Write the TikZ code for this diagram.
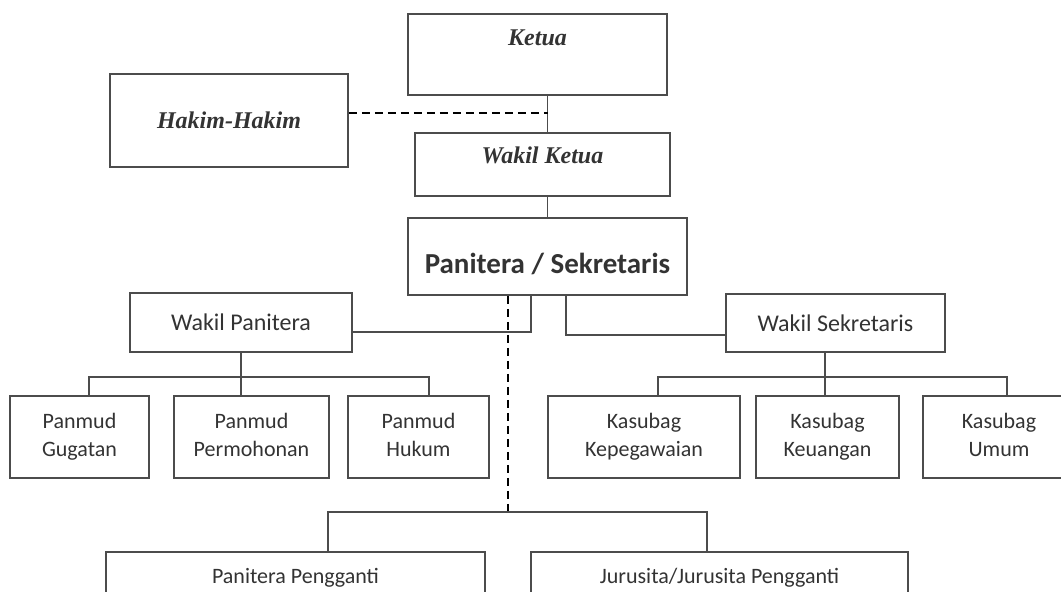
\documentclass[tikz,border=0pt]{standalone}
\usepackage{fontspec}
\setmainfont{Carlito}
\newfontfamily\serifmiring{Liberation Serif}
\usepackage{tikz}

\begin{document}
\begin{tikzpicture}[x=1pt,y=-1pt,
	kotak/.style={shape=rectangle,draw=black!70,line width=1.7pt,inner sep=0pt,align=center,text=black!80},
	atas/.style={kotak,font=\serifmiring\bfseries\itshape\fontsize{24}{28}\selectfont},
	bawah/.style={kotak,font=\fontsize{22}{28}\selectfont,minimum height=82,execute at end node=\vphantom{g}},
	garis/.style={draw=black!70,line width=1.7pt},
	putus/.style={draw=black,line width=2.4pt,dash pattern=on 8pt off 5pt}]
	\useasboundingbox (0,0) rectangle (1061,592);
	\clip (0,0) rectangle (1061,592);
	\node[atas,minimum width=259,text height=31,text depth=50](ketua) at (537.5,54.5) {Ketua};
	\node[atas,minimum width=238,minimum height=93](hakim) at (229,120.5) {Hakim-Hakim};
	\node[atas,minimum width=255,text height=30,text depth=33](wketua) at (542.5,164.5) {Wakil Ketua};
	\node[kotak,font=\bfseries\fontsize{29}{32}\selectfont,minimum width=279,text height=55,text depth=22](panitera) at (547.5,256.5) {Panitera / Sekretaris};
	\node[kotak,font=\fontsize{24}{28}\selectfont,minimum width=222,minimum height=59](wpan) at (241,322.5) {Wakil Panitera};
	\node[kotak,font=\fontsize{24}{28}\selectfont,minimum width=219,minimum height=58](wsek) at (835.5,323) {Wakil Sekretaris};
	\node[bawah,minimum width=139](gugatan) at (79.5,437) {Panmud\\Gugatan};
	\node[bawah,minimum width=155](permohonan) at (251.5,437) {Panmud\\Permohonan};
	\node[bawah,minimum width=141](hukum) at (418.5,437) {Panmud\\Hukum};
	\node[bawah,minimum width=192](kepeg) at (644,437) {Kasubag\\Kepegawaian};
	\node[bawah,minimum width=143](keuangan) at (827.5,437) {Kasubag\\Keuangan};
	\node[bawah,minimum width=152](umum) at (999,437) {Kasubag\\Umum};
	\node[kotak,font=\fontsize{22}{28}\selectfont,minimum width=379,text height=31,text depth=27](pengganti) at (295.5,581) {Panitera Pengganti};
	\node[kotak,font=\fontsize{22}{28}\selectfont,minimum width=377,text height=31,text depth=27](jurusita) at (719.5,581) {Jurusita/Jurusita Pengganti};
	\coordinate (busP) at (241,377);
	\coordinate (busK) at (825,377);
	\coordinate (simpul) at (508,512);
	\draw[garis] (ketua.south -| panitera.north) -- (wketua.north -| panitera.north);
	\draw[garis] (wketua.south -| panitera.north) -- (panitera.north);
	\draw[putus] ([yshift=7.5pt]hakim.east) -- ([yshift=7.5pt]hakim.east -| panitera.north);
	\draw[garis] ([xshift=-16.5pt]panitera.south) |- ([yshift=-9.5pt]wpan.east);
	\draw[garis] ([xshift=18.5pt]panitera.south) |- ([yshift=-12pt]wsek.west);
	\draw[garis] (wpan.south) -- (busP |- permohonan.north);
	\draw[garis] ([xshift=9.5pt]gugatan.north) |- (busP) -| ([xshift=10.5pt]hukum.north);
	\draw[garis] (wsek.south -| busK) -- (busK |- keuangan.north);
	\draw[garis] ([xshift=14pt]kepeg.north) |- (busK) -| ([xshift=8pt]umum.north);
	\draw[putus] ([xshift=-39.5pt]panitera.south) -- (simpul);
	\draw[garis] ([xshift=32.5pt]pengganti.north) |- (simpul) -| ([xshift=-12.5pt]jurusita.north);
\end{tikzpicture}
\end{document}
